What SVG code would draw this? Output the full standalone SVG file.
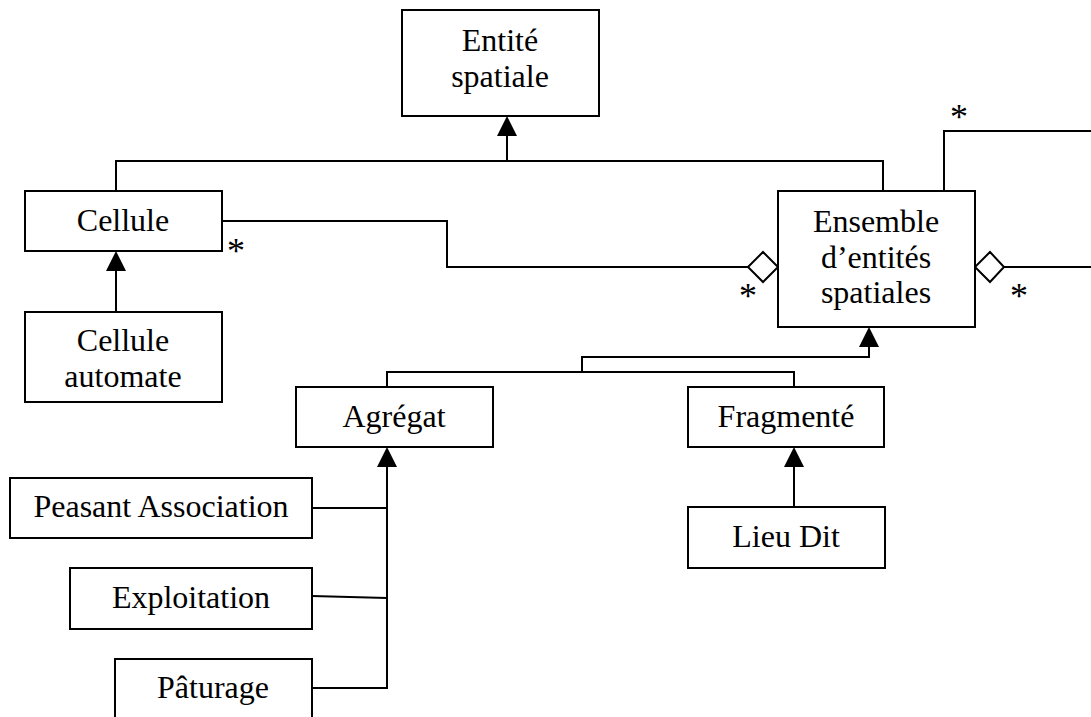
<svg xmlns="http://www.w3.org/2000/svg" width="1091" height="717" viewBox="0 0 1091 717">
<style>
.box{fill:#fff;stroke:#000;stroke-width:2}
.t{font-family:"Liberation Serif","Times New Roman",serif;font-size:32px;fill:#000;text-anchor:middle}
.s{font-family:"Liberation Serif","Times New Roman",serif;font-size:36px;fill:#000;text-anchor:middle}
.ln{fill:none;stroke:#000;stroke-width:2}
.tri{fill:#000;stroke:none}
.dia{fill:#fff;stroke:#000;stroke-width:2}
</style>
<rect width="1091" height="717" fill="#fff"/>
<g id="connectors">
  <path class="ln" d="M507,136 V161 M116,191 V161 H883 V191"/>
  <polygon class="tri" points="507,116 497,136 517,136"/>
  <path class="ln" d="M116,271 V312"/>
  <polygon class="tri" points="116,251 106,271 126,271"/>
  <path class="ln" d="M222,221 H447 V267 H748"/>
  <polygon class="dia" points="748,267 763,252 778,267 763,282"/>
  <path class="ln" d="M1004,267 H1091"/>
  <polygon class="dia" points="975,267 990,252 1004,267 990,282"/>
  <path class="ln" d="M944,191 V131 H1091"/>
  <path class="ln" d="M869,347 V357 H582 V372 M387,387 V372 H794 V387"/>
  <polygon class="tri" points="869,327 859,347 879,347"/>
  <path class="ln" d="M794,467 V507"/>
  <polygon class="tri" points="794,447 784,467 804,467"/>
  <path class="ln" d="M387,467 V688 H312 M312,508 H387 M312,596 L387,598"/>
  <polygon class="tri" points="387,447 377,467 397,467"/>
  <text class="s" x="236" y="263">*</text>
  <text class="s" x="748" y="308">*</text>
  <text class="s" x="959" y="129">*</text>
  <text class="s" x="1019" y="308">*</text>
</g>
<g id="entite-spatiale">
  <rect class="box" x="402" y="10" width="197" height="106"/>
  <text class="t" x="500" y="51">Entité</text>
  <text class="t" x="500" y="87">spatiale</text>
</g>
<g id="cellule">
  <rect class="box" x="25" y="191" width="197" height="60"/>
  <text class="t" x="123" y="231">Cellule</text>
</g>
<g id="cellule-automate">
  <rect class="box" x="25" y="312" width="197" height="90"/>
  <text class="t" x="123" y="351">Cellule</text>
  <text class="t" x="123" y="387">automate</text>
</g>
<g id="ensemble">
  <rect class="box" x="778" y="191" width="197" height="136"/>
  <text class="t" x="876" y="232">Ensemble</text>
  <text class="t" x="876" y="268">d’entités</text>
  <text class="t" x="876" y="303">spatiales</text>
</g>
<g id="agregat">
  <rect class="box" x="296" y="387" width="197" height="60"/>
  <text class="t" x="394" y="427">Agrégat</text>
</g>
<g id="fragmente">
  <rect class="box" x="688" y="387" width="196" height="60"/>
  <text class="t" x="786" y="427">Fragmenté</text>
</g>
<g id="lieu-dit">
  <rect class="box" x="688" y="507" width="197" height="61"/>
  <text class="t" x="786" y="547">Lieu Dit</text>
</g>
<g id="peasant-association">
  <rect class="box" x="10" y="478" width="302" height="60"/>
  <text class="t" x="161" y="517">Peasant Association</text>
</g>
<g id="exploitation">
  <rect class="box" x="70" y="568" width="242" height="61"/>
  <text class="t" x="191" y="608">Exploitation</text>
</g>
<g id="paturage">
  <rect class="box" x="115" y="659" width="197" height="70"/>
  <text class="t" x="213" y="698">Pâturage</text>
</g>
</svg>
